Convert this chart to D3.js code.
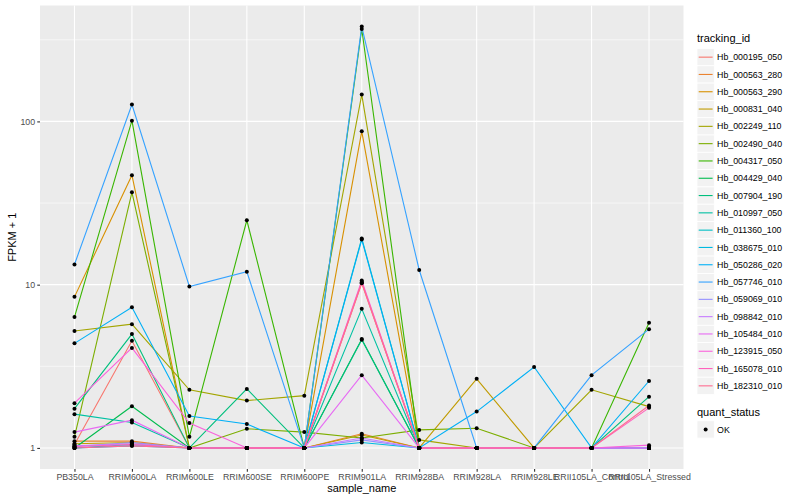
<!DOCTYPE html>
<html>
<head>
<meta charset="utf-8">
<script src="https://cdn.jsdelivr.net/npm/d3@7"></script>
<style>
  body { margin: 0; background: #ffffff; }
  svg { display: block; font-family: "Liberation Sans", Arial, Helvetica, sans-serif; }
</style>
</head>
<body>
<svg id="chart" width="800" height="500"></svg>
<script>
// ---- data ----
const samples = ["PB350LA", "RRIM600LA", "RRIM600LE", "RRIM600SE", "RRIM600PE", "RRIM901LA",
  "RRIM928BA", "RRIM928LA", "RRIM928LE", "RRII105LA_Control", "RRII105LA_Stressed"];

const trackingIds = ["Hb_000195_050", "Hb_000563_280", "Hb_000563_290", "Hb_000831_040",
  "Hb_002249_110", "Hb_002490_040", "Hb_004317_050", "Hb_004429_040", "Hb_007904_190",
  "Hb_010997_050", "Hb_011360_100", "Hb_038675_010", "Hb_050286_020", "Hb_057746_010",
  "Hb_059069_010", "Hb_098842_010", "Hb_105484_010", "Hb_123915_050", "Hb_165078_010",
  "Hb_182310_010"];

const seriesColors = ["#F8766D", "#EA8331", "#D89000", "#C09B00", "#A3A500", "#7CAE00",
  "#39B600", "#00BB4E", "#00BF7D", "#00C1A3", "#00BFC4", "#00BAE0", "#00B0F6", "#35A2FF",
  "#9590FF", "#C77CFF", "#E76BF3", "#FA62DB", "#FF62BC", "#FF6C91"];

// FPKM + 1 values, one array per tracking id, in sample order
const v000195_050 = [1.05, 4.53, 1, 1, 1, 10.2, 1, 1, 1, 1, 1];
const v000563_280 = [1.10, 1.10, 1, 1, 1, 1.22, 1, 1, 1, 1, 1];
const v000563_290 = [8.42, 46.8, 1, 1, 1, 87, 1, 1, 1, 1, 1];
const v000831_040 = [1.06, 1.08, 1, 1, 1, 1.20, 1, 2.65, 1, 1, 1];
const v002249_110 = [5.2, 5.73, 2.27, 1.95, 2.09, 146, 1.12, 1, 1, 2.27, 1.79];
const v002490_040 = [1.17, 36.8, 1, 1.31, 1.25, 1.15, 1.29, 1.32, 1, 1, 1];
const v004317_050 = [6.33, 101, 1.17, 24.8, 1, 368, 1, 1, 1, 1, 5.84];
const v004429_040 = [1.0, 1.8, 1, 1, 1, 4.64, 1, 1, 1, 1, 1];
const v007904_190 = [1.74, 4.98, 1, 2.3, 1, 4.60, 1, 1, 1, 1, 2.06];
const v010997_050 = [1.61, 1.43, 1, 1, 1, 7.11, 1, 1, 1, 1, 1];
const v011360_100 = [1.0, 1.05, 1, 1, 1, 19.2, 1, 1, 1, 1, 1];
const v038675_010 = [1.0, 1.03, 1, 1, 1, 1.08, 1, 1, 1, 1, 1];
const v050286_020 = [4.37, 7.28, 1.57, 1.40, 1, 18.9, 1, 1.67, 3.13, 1, 2.57];
const v057746_010 = [13.3, 127, 9.75, 12.0, 1, 381, 12.3, 1, 1, 2.79, 5.34];
const v059069_010 = [1.02, 1.08, 1, 1, 1, 1.12, 1, 1, 1, 1, 1];
const v098842_010 = [1.03, 1.06, 1, 1, 1, 1.15, 1, 1, 1, 1, 1.0];
const v105484_010 = [1.25, 1.48, 1, 1, 1, 2.79, 1, 1, 1, 1, 1];
const v123915_050 = [1.88, 4.1, 1.42, 1, 1, 10.6, 1, 1, 1, 1, 1.04];
const v165078_010 = [1.02, 1.05, 1, 1, 1, 10.4, 1, 1, 1, 1, 1.76];
const v182310_010 = [1.0, 1.03, 1, 1, 1, 10.3, 1, 1, 1, 1, 1.82];

const seriesValues = [v000195_050, v000563_280, v000563_290, v000831_040, v002249_110,
  v002490_040, v004317_050, v004429_040, v007904_190, v010997_050, v011360_100, v038675_010,
  v050286_020, v057746_010, v059069_010, v098842_010, v105484_010, v123915_050, v165078_010,
  v182310_010];

const yTickValues = [1, 10, 100];
const yTickLabels = ["1", "10", "100"];
const quantLevels = ["OK"];

// ---- layout ----
const svg = d3.select("#chart");
const panel = { left: 40, right: 683.5, top: 5.5, bottom: 469 };

const x = d3.scalePoint().domain(samples).range([panel.left, panel.right]).padding(0.6);

const allVals = seriesValues.flat();
const lmin = Math.log10(d3.min(allVals)), lmax = Math.log10(d3.max(allVals));
const lexp = (lmax - lmin) * 0.05;
const y = d3.scaleLog().domain([Math.pow(10, lmin - lexp), Math.pow(10, lmax + lexp)])
  .range([panel.bottom, panel.top]);

// panel background
svg.append("rect").attr("x", panel.left).attr("y", panel.top)
  .attr("width", panel.right - panel.left).attr("height", panel.bottom - panel.top)
  .attr("fill", "#EBEBEB");

const grid = svg.append("g");
// minor y grid (log midpoints)
const minorY = [-0.5, 0.5, 1.5, 2.5].map(e => Math.pow(10, e))
  .filter(v => y(v) >= panel.top && y(v) <= panel.bottom);
minorY.forEach(v => {
  grid.append("line").attr("x1", panel.left).attr("x2", panel.right)
    .attr("y1", y(v)).attr("y2", y(v)).attr("stroke", "#ffffff").attr("stroke-width", 0.55);
});
yTickValues.forEach(v => {
  grid.append("line").attr("x1", panel.left).attr("x2", panel.right)
    .attr("y1", y(v)).attr("y2", y(v)).attr("stroke", "#ffffff").attr("stroke-width", 1.1);
});
samples.forEach(s => {
  grid.append("line").attr("x1", x(s)).attr("x2", x(s))
    .attr("y1", panel.top).attr("y2", panel.bottom).attr("stroke", "#ffffff").attr("stroke-width", 1.1);
});

// lines
const lineGen = d3.line().x((d, i) => x(samples[i])).y(d => y(d));
const lines = svg.append("g");
seriesValues.forEach((vals, k) => {
  lines.append("path").datum(vals).attr("d", lineGen)
    .attr("fill", "none").attr("stroke", seriesColors[k]).attr("stroke-width", 1.1);
});

// points
const pts = svg.append("g");
seriesValues.forEach(vals => {
  vals.forEach((v, i) => {
    pts.append("circle").attr("cx", x(samples[i])).attr("cy", y(v)).attr("r", 2)
      .attr("fill", "#000000");
  });
});

// axes
const xAxis = svg.append("g").attr("transform", `translate(0,${panel.bottom})`)
  .call(d3.axisBottom(x).tickSize(2.75).tickPadding(2.2));
const yAxis = svg.append("g").attr("transform", `translate(${panel.left},0)`)
  .call(d3.axisLeft(y).tickValues(yTickValues).tickFormat((d, i) => yTickLabels[i]).tickSize(2.75).tickPadding(2.2));
[xAxis, yAxis].forEach(a => {
  a.select(".domain").remove();
  a.selectAll(".tick line").attr("stroke", "#333333").attr("stroke-width", 1.1);
  a.selectAll(".tick text").attr("fill", "#4D4D4D").attr("font-size", "8.8px")
    .attr("font-family", "Liberation Sans, Arial, sans-serif");
});

// axis titles
svg.append("text").attr("x", (panel.left + panel.right) / 2).attr("y", 492)
  .attr("text-anchor", "middle").attr("font-size", "11px").attr("fill", "#000").text("sample_name");
svg.append("text").attr("transform", `translate(16,${(panel.top + panel.bottom) / 2}) rotate(-90)`)
  .attr("text-anchor", "middle").attr("font-size", "11px").attr("fill", "#000").text("FPKM + 1");

// legend: tracking_id
const lg = svg.append("g");
const lgX = 697, keyW = 17.3, keyH = 17.3, firstKeyTop = 48.5;
lg.append("text").attr("x", lgX).attr("y", 42).attr("font-size", "11px").attr("fill", "#000").text("tracking_id");
trackingIds.forEach((id, k) => {
  const ty = firstKeyTop + k * keyH;
  lg.append("rect").attr("x", lgX).attr("y", ty).attr("width", keyW).attr("height", keyH)
    .attr("fill", "#F2F2F2").attr("stroke", "#ffffff").attr("stroke-width", 0.8);
  lg.append("line").attr("x1", lgX + 1.7).attr("x2", lgX + keyW - 1.7)
    .attr("y1", ty + keyH / 2).attr("y2", ty + keyH / 2)
    .attr("stroke", seriesColors[k]).attr("stroke-width", 1.1);
  lg.append("text").attr("x", lgX + keyW + 2.8).attr("y", ty + keyH / 2)
    .attr("dy", "0.35em").attr("font-size", "8.8px").attr("fill", "#000").text(id);
});

// legend: quant_status
const qTitleY = 416;
lg.append("text").attr("x", lgX).attr("y", qTitleY).attr("font-size", "11px").attr("fill", "#000").text("quant_status");
quantLevels.forEach((q, k) => {
  const ty = 420.8 + k * keyH;
  lg.append("rect").attr("x", lgX).attr("y", ty).attr("width", keyW).attr("height", keyH)
    .attr("fill", "#F2F2F2").attr("stroke", "#ffffff").attr("stroke-width", 0.8);
  lg.append("circle").attr("cx", lgX + keyW / 2).attr("cy", ty + keyH / 2).attr("r", 2).attr("fill", "#000");
  lg.append("text").attr("x", lgX + keyW + 2.8).attr("y", ty + keyH / 2)
    .attr("dy", "0.35em").attr("font-size", "8.8px").attr("fill", "#000").text(q);
});
</script>
</body>
</html>
